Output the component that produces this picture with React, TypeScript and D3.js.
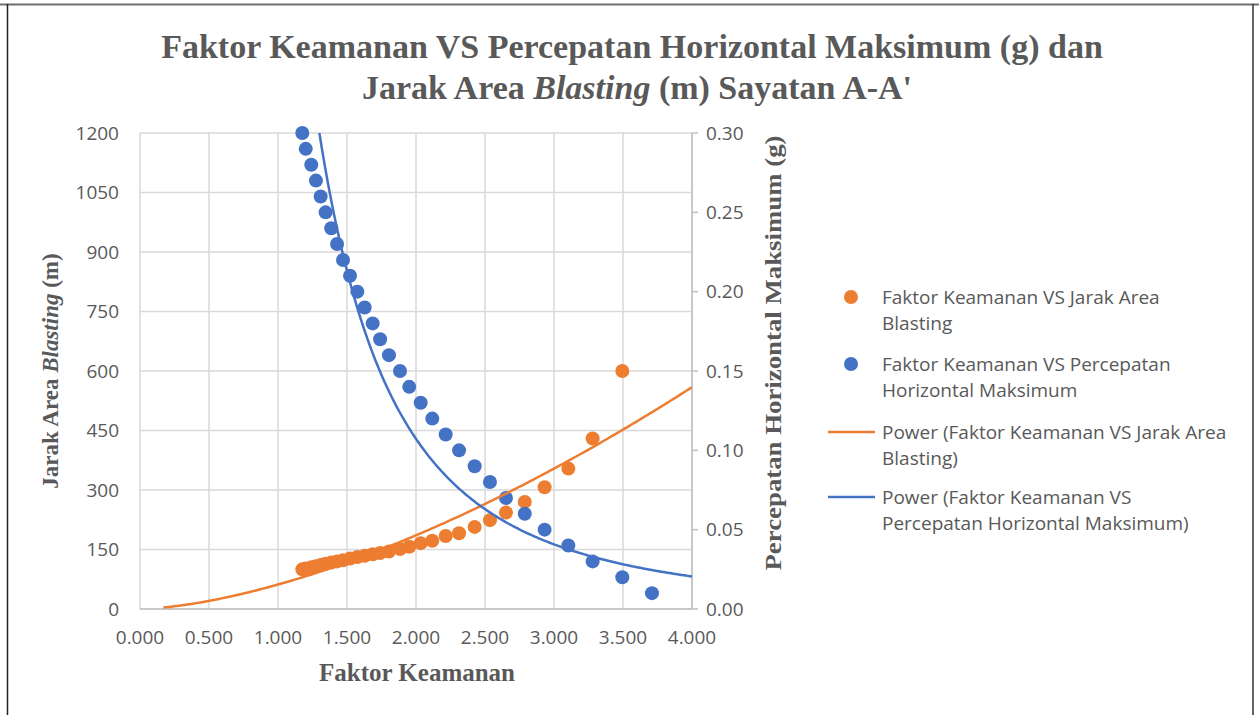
import React from "react";
import * as d3 from "d3";

// ---- data ----
const faktorKeamanan = [1.176, 1.201, 1.241, 1.275, 1.309, 1.345, 1.386, 1.428, 1.471, 1.522, 1.575, 1.628, 1.686, 1.74, 1.804, 1.884, 1.951, 2.034, 2.118, 2.215, 2.312, 2.425, 2.536, 2.652, 2.788, 2.932, 3.104, 3.28, 3.495, 3.71];
const percepatan = [0.30, 0.29, 0.28, 0.27, 0.26, 0.25, 0.24, 0.23, 0.22, 0.21, 0.20, 0.19, 0.18, 0.17, 0.16, 0.15, 0.14, 0.13, 0.12, 0.11, 0.10, 0.09, 0.08, 0.07, 0.06, 0.05, 0.04, 0.03, 0.02, 0.01];
const faktorJarak = [1.176, 1.201, 1.241, 1.275, 1.309, 1.345, 1.386, 1.428, 1.471, 1.522, 1.575, 1.628, 1.686, 1.74, 1.804, 1.884, 1.951, 2.034, 2.118, 2.215, 2.312, 2.425, 2.536, 2.652, 2.788, 2.932, 3.104, 3.28, 3.495];
const jarakArea = [100, 102, 105, 108, 111, 114, 117, 120, 123, 127, 131, 134, 138, 141, 145, 151, 157, 166, 172, 184, 191, 207, 224, 243, 270, 307, 354, 430, 600];

// power trendline parameters (y = a * x^b)
const trendJarak = { a: 61.7, b: 1.59, from: 0.17, to: 4.0 };
const trendPercepatan = { a: 0.561, b: -2.387, from: 1.0, to: 4.0 };

const xTicks = [0, 0.5, 1, 1.5, 2, 2.5, 3, 3.5, 4];
const leftTicks = [0, 150, 300, 450, 600, 750, 900, 1050, 1200];
const rightTicks = [0, 0.05, 0.1, 0.15, 0.2, 0.25, 0.3];

const ORANGE = "#ED7D31";
const BLUE = "#4472C4";
const TXT = "#595959";
const SANS = "'Open Sans', 'Noto Sans', sans-serif";
const SERIF = "'Liberation Serif', 'Times New Roman', serif";

export default function App() {
  const W = 1259, H = 715;
  const L = 140, R = 692, T = 133, B = 609;
  const x = d3.scaleLinear().domain([0, 4]).range([L, R]);
  const yL = d3.scaleLinear().domain([0, 1200]).range([B, T]);
  const yR = d3.scaleLinear().domain([0, 0.3]).range([B, T]);

  const sample = (t: { a: number; b: number; from: number; to: number }) =>
    d3.range(0, 201).map((i) => {
      const xv = t.from + ((t.to - t.from) * i) / 200;
      return [xv, t.a * Math.pow(xv, t.b)] as [number, number];
    });
  const lineL = d3.line<[number, number]>().x((d) => x(d[0])).y((d) => yL(d[1]));
  const lineR = d3.line<[number, number]>().x((d) => x(d[0])).y((d) => yR(d[1]));

  const fx = d3.format(".3f");
  const fr = d3.format(".2f");

  const legendRows = [
    { kind: "dot", color: ORANGE, y: 297, lines: ["Faktor Keamanan VS Jarak Area", "Blasting"] },
    { kind: "dot", color: BLUE, y: 364, lines: ["Faktor Keamanan VS Percepatan", "Horizontal Maksimum"] },
    { kind: "line", color: ORANGE, y: 432, lines: ["Power (Faktor Keamanan VS Jarak Area", "Blasting)"] },
    { kind: "line", color: BLUE, y: 497, lines: ["Power (Faktor Keamanan VS", "Percepatan Horizontal Maksimum)"] },
  ];

  return (
    <svg width={W} height={H} style={{ position: "absolute", left: 0, top: 0, background: "#fff" }}>
      <defs>
        <clipPath id="plot">
          <rect x={L} y={T} width={R - L} height={B - T} />
        </clipPath>
      </defs>
      {/* frame */}
      <line x1={0} x2={W} y1={4.5} y2={4.5} stroke="#6e6e6e" strokeWidth={2} />
      <line x1={7.5} x2={7.5} y1={4} y2={H} stroke="#222" strokeWidth={1.5} />
      <line x1={1253} x2={1253} y1={4} y2={H} stroke="#333" strokeWidth={1.5} />

      {/* title */}
      <text x={632} y={58} textAnchor="middle" fontFamily={SERIF} fontWeight="bold" fontSize={34} fill={TXT}>
        Faktor Keamanan VS Percepatan Horizontal Maksimum (g) dan
      </text>
      <text x={637} y={99} textAnchor="middle" fontFamily={SERIF} fontWeight="bold" fontSize={34} fill={TXT}>
        Jarak Area <tspan fontStyle="italic">Blasting</tspan> (m) Sayatan A-A'
      </text>

      {/* gridlines */}
      {leftTicks.map((t) => (
        <line key={"h" + t} x1={L} x2={R} y1={yL(t)} y2={yL(t)} stroke="#d9d9d9" strokeWidth={1.5} />
      ))}
      {xTicks.map((t) => (
        <line key={"v" + t} x1={x(t)} x2={x(t)} y1={T} y2={B} stroke="#d9d9d9" strokeWidth={1.5} />
      ))}
      {/* axes */}
      <line x1={L} x2={R} y1={B} y2={B} stroke="#bfbfbf" strokeWidth={1.5} />
      <line x1={R} x2={R} y1={T} y2={B} stroke="#bfbfbf" strokeWidth={1.5} />
      {rightTicks.map((t) => (
        <line key={"rt" + t} x1={R} x2={R + 6} y1={yR(t)} y2={yR(t)} stroke="#bfbfbf" strokeWidth={1.5} />
      ))}

      {/* tick labels */}
      {leftTicks.map((t) => (
        <text key={"lt" + t} x={119} y={yL(t)} dy="0.35em" textAnchor="end" fontFamily={SANS} fontSize={19} fill={TXT}>
          {t}
        </text>
      ))}
      {rightTicks.map((t) => (
        <text key={"rl" + t} x={706} y={yR(t)} dy="0.35em" textAnchor="start" fontFamily={SANS} fontSize={19} fill={TXT}>
          {fr(t)}
        </text>
      ))}
      {xTicks.map((t) => (
        <text key={"xl" + t} x={x(t)} y={637} dy="0.35em" textAnchor="middle" fontFamily={SANS} fontSize={19} fill={TXT}>
          {fx(t)}
        </text>
      ))}

      {/* axis titles */}
      <text transform={`translate(58,${(T + B) / 2}) rotate(-90)`} textAnchor="middle" fontFamily={SERIF} fontWeight="bold" fontSize={23} fill={TXT}>
        Jarak Area <tspan fontStyle="italic">Blasting</tspan> (m)
      </text>
      <text transform={`translate(781,${(T + B) / 2 - 18}) rotate(-90)`} textAnchor="middle" fontFamily={SERIF} fontWeight="bold" fontSize={23} fill={TXT}
        textLength={435} lengthAdjust="spacingAndGlyphs">
        Percepatan Horizontal Maksimum (g)
      </text>
      <text x={417} y={681} textAnchor="middle" fontFamily={SERIF} fontWeight="bold" fontSize={25} fill={TXT}>
        Faktor Keamanan
      </text>

      {/* markers */}
      <g>
        {faktorJarak.map((f, i) => (
          <circle key={"o" + i} cx={x(f)} cy={yL(jarakArea[i])} r={7} fill={ORANGE} />
        ))}
        {faktorKeamanan.map((f, i) => (
          <circle key={"b" + i} cx={x(f)} cy={yR(percepatan[i])} r={7} fill={BLUE} />
        ))}
      </g>

      {/* trendlines */}
      <g clipPath="url(#plot)">
        <path d={lineL(sample(trendJarak)) || ""} fill="none" stroke={ORANGE} strokeWidth={2.5} />
        <path d={lineR(sample(trendPercepatan)) || ""} fill="none" stroke={BLUE} strokeWidth={2.5} />
      </g>

      {/* legend */}
      {legendRows.map((r, i) => (
        <g key={"lg" + i}>
          {r.kind === "dot" ? (
            <circle cx={851} cy={r.y} r={7} fill={r.color} />
          ) : (
            <line x1={828} x2={875} y1={r.y} y2={r.y} stroke={r.color} strokeWidth={2.5} />
          )}
          {r.lines.map((ln, j) => (
            <text key={j} x={882} y={r.y + j * 26} dy="0.35em" fontFamily={SANS} fontSize={19} fill={TXT}>
              {ln}
            </text>
          ))}
        </g>
      ))}
    </svg>
  );
}
